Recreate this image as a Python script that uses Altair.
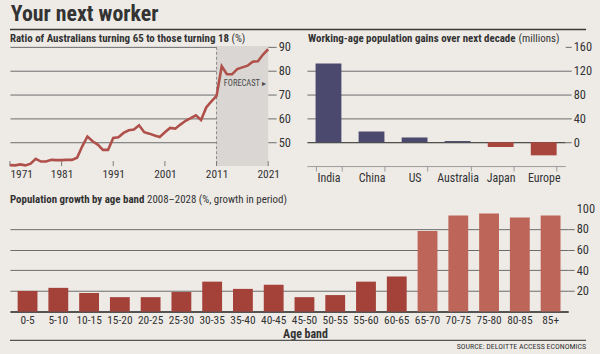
import altair as alt
import pandas as pd

# ---------------- data ----------------
years = list(range(1971, 2022))
ratio = [40.4, 40.3, 40.7, 40.3, 41.0, 43.0, 41.9, 41.9, 42.6, 42.5,
         42.5, 42.6, 42.6, 43.5, 48.3, 52.4, 50.4, 49.0, 46.8, 46.8,
         51.8, 52.1, 53.9, 55.0, 55.3, 57.1, 54.2, 53.6, 52.8, 52.2,
         54.2, 56.0, 55.7, 57.4, 59.0, 60.1, 61.3, 59.3, 64.6, 67.1,
         69.4, 81.9, 78.5, 78.5, 80.7, 81.4, 82.1, 83.8, 84.0, 86.8,
         89.0]
year_ticks = [1971, 1981, 1991, 2001, 2011, 2021]
ratio_ticks = [50, 60, 70, 80, 90]
forecast_start = [2011]
forecast_end = [2021]

countries = ["India", "China", "US", "Australia", "Japan", "Europe"]
gains = [132, 18, 8, 2, -8, -22]
gain_ticks = [0, 40, 80, 120, 160]

bands = ["0-5", "5-10", "10-15", "15-20", "20-25", "25-30", "30-35", "35-40",
         "40-45", "45-50", "50-55", "55-60", "60-65", "65-70", "70-75",
         "75-80", "80-85", "85+"]
growth = [20, 23, 18, 14, 14, 19, 29, 22, 26, 14, 16, 29, 34, 78, 93, 95, 91, 93]
growth_ticks = [20, 40, 60, 80, 100]
older_bands = ["65-70", "70-75", "75-80", "80-85", "85+"]

# ---------------- style ----------------
FONT = "Roboto Condensed"
BG = "#eeebe7"
INK = "#333333"
GRID = "#6b6b6b"
LINE = "#b0504a"
NAVY = "#4b4a6e"
RED = "#a8463d"
DARKRED = "#a4423a"
LIGHTRED = "#bd6559"

W1, H1 = 260, 120
W2 = 260
W3, H3 = 562, 104

one = pd.DataFrame({"t": [0]})

# ---------------- left: line chart ----------------
line_df = pd.DataFrame({"year": years, "ratio": ratio})
fc_df = pd.DataFrame({"start": forecast_start, "end": forecast_end})
tick_df = pd.DataFrame({"year": year_ticks})

xscale = alt.Scale(domain=[years[0], years[-1]], nice=False, zero=False)
yscale = alt.Scale(domain=[40, 90], nice=False, zero=False)
xaxis = alt.Axis(values=year_ticks, format="d", title=None, grid=False, domain=False,
                 ticks=False, labelFontSize=11.5, labelPadding=3, labelOverlap=False,
                 labelAlign={"condition": {"test": "datum.value == 1971", "value": "left"},
                             "value": "center"})
yaxis = alt.Axis(orient="right", values=ratio_ticks, title=None, grid=True,
                 gridColor=GRID, gridWidth=1, domain=False, tickColor=GRID,
                 tickSize=8, labelFontSize=12.5, labelPadding=2, labelOverlap=False)

fc_rect = alt.Chart(fc_df).mark_rect(color="#d9d6d3").encode(
    x=alt.X("start:Q", scale=xscale, axis=xaxis),
    x2="end:Q",
    y=alt.value(0), y2=alt.value(H1))
fc_rule = alt.Chart(fc_df).mark_rule(color="#8a8a8a", strokeDash=[3, 2], strokeWidth=1).encode(
    x=alt.X("start:Q", scale=xscale, axis=xaxis),
    y=alt.value(0), y2=alt.value(H1))
year_marks = alt.Chart(tick_df).mark_rule(color="#7a7a7a", strokeWidth=1).encode(
    x=alt.X("year:Q", scale=xscale, axis=xaxis),
    y=alt.value(H1 - 5), y2=alt.value(H1))
line = alt.Chart(line_df).mark_line(color=LINE, strokeWidth=2.6).encode(
    x=alt.X("year:Q", scale=xscale, axis=xaxis),
    y=alt.Y("ratio:Q", scale=yscale, axis=yaxis))
fc_text = alt.Chart(one).mark_text(text="FORECAST \u25B8", align="left", baseline="middle",
                                   font=FONT, fontSize=8.5, color="#4a4a4a").encode(
    x=alt.XDatum(2012.4, type="quantitative", scale=xscale, axis=xaxis),
    y=alt.YDatum(75, type="quantitative", scale=yscale, axis=yaxis))
title_rule = alt.Chart(one).mark_rule(color="#3a3a3a", strokeWidth=1.5).encode(
    x=alt.value(0), x2=alt.value(580), y=alt.value(-17.5))
sub1a = alt.Chart(one).mark_text(text="Ratio of Australians turning 65 to those turning 18",
                                 align="left", baseline="middle", font=FONT, fontSize=11,
                                 fontWeight="bold", color=INK).encode(
    x=alt.value(0), y=alt.value(-7.5))
sub1b = alt.Chart(one).mark_text(text="(%)", align="left", baseline="middle", font=FONT,
                                 fontSize=11, color=INK).encode(
    x=alt.value(223), y=alt.value(-7.5))

left = alt.layer(fc_rect, fc_rule, year_marks, line, fc_text, title_rule, sub1a, sub1b).properties(
    width=W1, height=H1)

# ---------------- right: bar chart ----------------
bar_df = pd.DataFrame({"country": countries, "gain": gains})
bars = alt.Chart(bar_df).mark_bar().encode(
    x=alt.X("country:N", sort=countries,
            scale=alt.Scale(paddingInner=0.4, paddingOuter=0.2),
            axis=alt.Axis(title=None, labelAngle=0, domain=True, domainColor="#9a9a9a",
                          ticks=True, tickColor="#9a9a9a", tickSize=5, tickBand="extent",
                          labelFontSize=12, labelPadding=2, labelOverlap=False)),
    y=alt.Y("gain:Q", scale=alt.Scale(domain=[-40, 160], nice=False),
            axis=alt.Axis(orient="right", values=gain_ticks, title=None, grid=True,
                          gridColor={"condition": {"test": "datum.value == 0", "value": "#222222"},
                                     "value": GRID},
                          gridOpacity={"condition": {"test": "datum.value == 160", "value": 0},
                                       "value": 1},
                          domain=False, tickColor=GRID, tickSize=6,
                          labelFontSize=12.5, labelPadding=2, labelOverlap=False)),
    color=alt.condition("datum.gain < 0", alt.value(RED), alt.value(NAVY)))
sub2a = alt.Chart(one).mark_text(text="Working-age population gains over next decade",
                                 align="left", baseline="middle", font=FONT, fontSize=11,
                                 fontWeight="bold", color=INK).encode(
    x=alt.value(1), y=alt.value(-8))
sub2b = alt.Chart(one).mark_text(text="(millions)", align="left", baseline="middle",
                                 font=FONT, fontSize=11, color=INK).encode(
    x=alt.value(213), y=alt.value(-8))
right = alt.layer(bars, sub2a, sub2b).properties(width=W2, height=H1)

# ---------------- bottom: age bands ----------------
age_df = pd.DataFrame({"band": bands, "growth": growth})
test_old = "indexof(" + str(older_bands).replace('"', "'") + ", datum.band) >= 0"
age_bars = alt.Chart(age_df).mark_bar().encode(
    x=alt.X("band:N", sort=bands,
            scale=alt.Scale(paddingInner=0.355, paddingOuter=0.25),
            axis=alt.Axis(title="Age band", labelAngle=0, ticks=False, domain=True,
                          domainColor="#222222", domainWidth=1.5, labelFontSize=11.5,
                          labelPadding=3, titleFontSize=12, titleFontWeight="bold",
                          titleX=297, titlePadding=3, titleColor=INK, labelOverlap=False)),
    y=alt.Y("growth:Q", scale=alt.Scale(domain=[0, 100], nice=False),
            axis=alt.Axis(orient="right", values=growth_ticks, title=None, grid=True,
                          gridColor=GRID,
                          gridOpacity={"condition": {"test": "datum.value == 100", "value": 0},
                                       "value": 1},
                          tickOpacity={"condition": {"test": "datum.value == 100", "value": 0},
                                       "value": 1},
                          domain=False, tickColor=GRID, tickSize=6,
                          labelFontSize=12.5, labelPadding=2, labelOverlap=False)),
    color=alt.condition(test_old, alt.value(LIGHTRED), alt.value(DARKRED)))
sub3a = alt.Chart(one).mark_text(text="Population growth by age band", align="left",
                                 baseline="middle", font=FONT, fontSize=11,
                                 fontWeight="bold", color=INK).encode(
    x=alt.value(0), y=alt.value(-8))
sub3b = alt.Chart(one).mark_text(text="2008\u20132028 (%, growth in period)", align="left",
                                 baseline="middle", font=FONT, fontSize=11, color=INK).encode(
    x=alt.value(138), y=alt.value(-8))
bottom_rule = alt.Chart(one).mark_rule(color="#555555", strokeWidth=1.2).encode(
    x=alt.value(0), x2=alt.value(580), y=alt.value(133))
source = alt.Chart(one).mark_text(text="SOURCE: DELOITTE ACCESS ECONOMICS", align="right",
                                  baseline="middle", font=FONT, fontSize=8,
                                  color=INK).encode(
    x=alt.value(580), y=alt.value(140))
bottom = alt.layer(age_bars, sub3a, sub3b, bottom_rule, source).properties(
    width=W3, height=H3)

chart = alt.vconcat(
    alt.hconcat(left, right, spacing=39, bounds="flush"),
    bottom, spacing=10.5
).properties(
    title=alt.TitleParams("Your next worker", anchor="start", fontSize=22, font=FONT,
                          fontWeight="bold", color="#333333", offset=3, dx=6),
    padding={"left": 4, "top": 1, "right": 5, "bottom": 2},
    background=BG
).configure_view(strokeWidth=0).configure_axis(
    labelFont=FONT, titleFont=FONT, labelColor=INK
)

chart.save("out.html", embed_options={"renderer": "svg", "actions": False})
